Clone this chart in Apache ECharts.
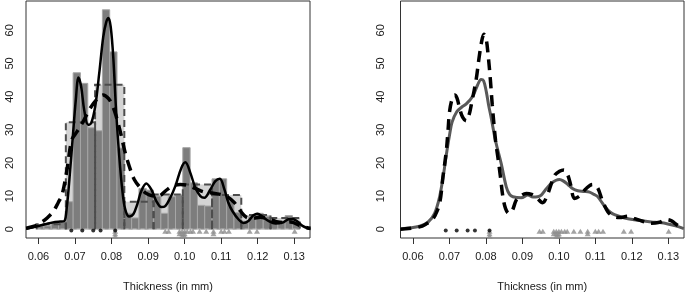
<!DOCTYPE html>
<html>
<head>
<meta charset="utf-8">
<script src="https://cdn.jsdelivr.net/npm/echarts@6/dist/echarts.min.js"></script>
<style>
  html, body { margin: 0; padding: 0; background: #fff; }
  #chart { width: 685px; height: 297px; }
</style>
</head>
<body>
<div id="chart"></div>
<script>
// thickness tick labels and density ticks
const xTicks = [0.06, 0.07, 0.08, 0.09, 0.10, 0.11, 0.12, 0.13];
const yTicks = [0, 10, 20, 30, 40, 50, 60];

// narrow histogram (bin width 0.002): left edges and densities
const narrowWidth = 0.002;
const narrowLeft = [0.0595, 0.0615, 0.0635, 0.0655, 0.0675, 0.0695, 0.0715, 0.0735, 0.0755, 0.0775,
  0.0795, 0.0815, 0.0835, 0.0855, 0.0875, 0.0895, 0.0915, 0.0935, 0.0955, 0.0975,
  0.0995, 0.1015, 0.1035, 0.1055, 0.1075, 0.1095, 0.1115, 0.1135, 0.1155, 0.1175,
  0.1195, 0.1215, 0.1235, 0.1255, 0.1275, 0.1295];
const narrowDensity = [1.0, 1.0, 2.1, 2.1, 8.3, 47.2, 44.0, 30.6, 29.7, 66.2,
  53.5, 24.5, 4.8, 3.4, 12.3, 11.8, 10.0, 4.8, 9.8, 10.3,
  24.6, 14.0, 7.2, 7.0, 15.2, 15.2, 8.5, 5.0, 2.4, 3.9,
  4.8, 3.9, 2.4, 2.4, 4.1, 1.5];

// wide histogram (bin width 0.008)
const wideWidth = 0.008;
const wideLeft = [0.0595, 0.0675, 0.0755, 0.0835, 0.0915, 0.0995, 0.1075, 0.1155, 0.1235];
const wideDensity = [1.5, 32.3, 43.6, 8.3, 10.5, 13.5, 10.3, 4.3, 3.4];

// left panel: solid density
const leftSolidX = [0.05663, 0.05855, 0.06184, 0.06458, 0.06595, 0.06704, 0.06778, 0.06868, 0.06941, 0.07023,
  0.07096, 0.07170, 0.07252, 0.07362, 0.07444, 0.07553, 0.07663, 0.07773, 0.07855, 0.07918,
  0.07978, 0.08047, 0.08129, 0.08211, 0.08293, 0.08375, 0.08485, 0.08595, 0.08704, 0.08814,
  0.08951, 0.09088, 0.09225, 0.09362, 0.09471, 0.09608, 0.09745, 0.09910, 0.10019, 0.10156,
  0.10293, 0.10430, 0.10540, 0.10704, 0.10841, 0.10964, 0.11088, 0.11197, 0.11307, 0.11471,
  0.11608, 0.11745, 0.11882, 0.11992, 0.12129, 0.12293, 0.12485, 0.12677, 0.12841, 0.12951,
  0.13088, 0.13225, 0.13389, 0.13444];
const leftSolidY = [0.1, 0.6, 1.5, 2.2, 2.3, 2.4, 6.8, 17.8, 28, 39,
  45.8, 43, 36, 31.5, 32, 37, 47, 58, 62.5, 63.7,
  61, 52, 35, 22, 12, 6, 3.8, 4.5, 7.5, 11.5,
  13.8, 12, 8.5, 6.7, 7, 9.5, 13, 18.5, 20.2, 17,
  12.5, 10, 9.5, 12, 14.5, 15.2, 12, 8, 5.5, 3,
  1.9, 2.5, 4.2, 4.7, 3.8, 2.5, 1.7, 2.0, 3.0, 3.1,
  2.3, 1.0, 0.2, 0.1];

// left panel: dashed density
const leftDashX = [0.05663, 0.05910, 0.06101, 0.06238, 0.06403, 0.06540, 0.06649, 0.06778, 0.06915, 0.07060,
  0.07225, 0.07416, 0.07608, 0.07773, 0.07910, 0.08019, 0.08129, 0.08238, 0.08375, 0.08485,
  0.08622, 0.08790, 0.08951, 0.09115, 0.09279, 0.09471, 0.09663, 0.09882, 0.10101, 0.10293,
  0.10512, 0.10704, 0.10978, 0.11197, 0.11362, 0.11526, 0.11690, 0.11855, 0.12074, 0.12293,
  0.12512, 0.12732, 0.12896, 0.13060, 0.13225, 0.13444];
const leftDashY = [0.3, 1.0, 2.2, 3.4, 5.3, 8.0, 10.5, 17.7, 27.0, 29.5,
  32.5, 36.5, 39.3, 40.5, 39.5, 37.5, 34, 29.5, 23.0, 19.0,
  15.0, 12.5, 10.8, 10.1, 10.0, 11.5, 13.0, 13.5, 13.2, 12.3,
  11.3, 11.0, 10.5, 9.6, 8.0, 5.5, 3.6, 3.3, 3.6, 3.1,
  2.3, 2.0, 2.2, 1.6, 0.8, 0.3];

// right panel: gray solid density
const rightSolidX = [0.05655, 0.06184, 0.06411, 0.06595, 0.06732, 0.06841, 0.06932, 0.07005, 0.07074, 0.07205,
  0.07334, 0.07463, 0.07644, 0.07773, 0.07868, 0.07937, 0.08011, 0.08074, 0.08148, 0.08266,
  0.08422, 0.08559, 0.08649, 0.08740, 0.08970, 0.09151, 0.09288, 0.09416, 0.09518, 0.09655,
  0.09792, 0.09910, 0.10019, 0.10129, 0.10247, 0.10384, 0.10521, 0.10677, 0.10841, 0.10964,
  0.11068, 0.11184, 0.11299, 0.11403, 0.11526, 0.11800, 0.12164, 0.12532, 0.12759, 0.12986,
  0.13197, 0.13425];
const rightSolidY = [0.1, 0.9, 2.1, 4.8, 9.8, 16.7, 23.6, 28.5, 32.3, 35.5,
  36.8, 37.8, 40.2, 43.5, 45.2, 44.8, 41.5, 37.5, 33.5, 26.6,
  19.7, 12.8, 10.5, 9.8, 9.5, 10.3, 9.7, 9.8, 10.3, 12.2,
  13.8, 14.7, 15.0, 14.5, 13.5, 12.2, 11.6, 11.4, 11.2, 10.5,
  9.8, 8.0, 6.3, 5.2, 4.4, 3.4, 2.7, 2.2, 2.0, 1.6,
  1.0, 0.2];

// right panel: dashed density
const rightDashX = [0.05655, 0.06184, 0.06384, 0.06512, 0.06595, 0.06732, 0.06822, 0.06915, 0.06964, 0.07005,
  0.07079, 0.07142, 0.07211, 0.07279, 0.07362, 0.07463, 0.07540, 0.07608, 0.07737, 0.07808,
  0.07882, 0.07945, 0.08005, 0.08055, 0.08121, 0.08175, 0.08266, 0.08329, 0.08403, 0.08466,
  0.08540, 0.08630, 0.08718, 0.08833, 0.08923, 0.09107, 0.09252, 0.09389, 0.09553, 0.09690,
  0.09882, 0.10019, 0.10137, 0.10238, 0.10321, 0.10430, 0.10567, 0.10751, 0.10923, 0.11060,
  0.11197, 0.11342, 0.11479, 0.11663, 0.11890, 0.12074, 0.12293, 0.12532, 0.12759, 0.12951,
  0.13088, 0.13252, 0.13425];
const rightDashY = [0.0, 0.7, 1.7, 2.7, 3.9, 7.8, 15.7, 23.6, 30, 35.5,
  39.5, 40.5, 39.5, 36.5, 33.8, 32.7, 34.5, 38, 45.4, 51.3,
  56.5, 58.8, 57.5, 53.3, 45.4, 37.5, 26.6, 21.7, 15.5, 9.8,
  6.2, 4.8, 5.5, 8.8, 9.8, 10.8, 10.5, 9.5, 8.0, 10.5,
  16.2, 17.5, 17.9, 16.5, 13.5, 9.3, 10.0, 12.3, 13.5, 12.5,
  8.5, 5.3, 3.9, 3.5, 3.9, 3.2, 2.4, 1.8, 2.1, 2.9,
  2.5, 1.2, 0.2];

// marks along the bottom
const dotX = [0.069, 0.072, 0.075, 0.077, 0.081];
const triX = [0.0810, 0.0947, 0.0956, 0.0986, 0.0993, 0.1000, 0.1007, 0.1016, 0.1023, 0.1041,
  0.1059, 0.1079, 0.1100, 0.1109, 0.1121, 0.1178, 0.1198, 0.1301];
const triCount = [3, 1, 1, 2, 3, 4, 1, 1, 1, 1, 1, 2, 1, 1, 1, 1, 1, 1];

const FONT = 'Liberation Sans, Arial, Helvetica, sans-serif';
const TEXT = '#1a1a1a';
const baseY = -0.4;
const stackStep = 0.75;

const zip = (xs, ys) => xs.map((x, i) => [x, ys[i]]);
const narrowData = narrowLeft.map((l, i) => [l, l + narrowWidth, narrowDensity[i]]);
const wideData = wideLeft.map((l, i) => [l, l + wideWidth, wideDensity[i]]);
const dotData = dotX.map(x => [x, baseY]);
const triData = [];
triX.forEach((x, i) => {
  for (let k = 0; k < triCount[i]; k++) triData.push([x, baseY - 0.2 - k * stackStep]);
});

function rectItem(params, api, style) {
  const p0 = api.coord([api.value(0), 0]);
  const p1 = api.coord([api.value(1), api.value(2)]);
  return {
    type: 'rect',
    shape: { x: p0[0], y: p1[1], width: p1[0] - p0[0], height: p0[1] - p1[1] },
    style: style,
  };
}

function outlineItem(params, api) {
  const a = api.coord([api.value(0), 0]);
  const b = api.coord([api.value(0), api.value(2)]);
  const c = api.coord([api.value(1), api.value(2)]);
  const d = api.coord([api.value(1), 0]);
  return {
    type: 'polyline',
    shape: { points: [a, b, c, d] },
    style: { fill: null, stroke: '#4d4d4d', lineWidth: 2, lineDash: [7, 4] },
  };
}

function makeX(idx) {
  return {
    type: 'value', gridIndex: idx, min: 0.0566, max: 0.1343,
    axisLine: { show: false, onZero: false },
    splitLine: { show: false },
    axisTick: { show: true, length: 6, lineStyle: { color: '#333' }, customValues: xTicks },
    axisLabel: {
      customValues: xTicks, formatter: v => v.toFixed(2),
      fontSize: 11, fontFamily: FONT, color: TEXT, margin: 13,
    },
    name: 'Thickness (in mm)', nameLocation: 'middle', nameGap: 43,
    nameTextStyle: { fontSize: 11, fontFamily: FONT, color: TEXT },
  };
}

function makeY(idx, margin) {
  return {
    type: 'value', gridIndex: idx, min: -2.65, max: 68.85,
    axisLine: { show: false, onZero: false },
    splitLine: { show: false },
    axisTick: { show: false },
    axisLabel: {
      customValues: yTicks, rotate: 90,
      fontSize: 11, fontFamily: FONT, color: TEXT, margin: margin,
    },
  };
}

function curve(xi, data, color, width, dash, z) {
  return {
    type: 'line', xAxisIndex: xi, yAxisIndex: xi, data: data,
    showSymbol: false, smooth: 0.35, z: z, silent: true,
    lineStyle: { color: color, width: width, type: dash ? [11, 7] : 'solid' },
  };
}

function marks(xi) {
  return [
    {
      type: 'scatter', xAxisIndex: xi, yAxisIndex: xi, data: triData,
      symbol: 'triangle', symbolSize: [6, 5], z: 6, silent: true,
      itemStyle: { color: '#8c8c8c' },
    },
    {
      type: 'scatter', xAxisIndex: xi, yAxisIndex: xi, data: dotData,
      symbol: 'circle', symbolSize: 4, z: 7, silent: true,
      itemStyle: { color: '#000' },
    },
  ];
}

const chart = echarts.init(document.getElementById('chart'), null, { renderer: 'canvas' });

chart.setOption({
  animation: false,
  backgroundColor: '#fff',
  grid: [
    { left: 26, top: 1, width: 284, height: 241, show: true, borderColor: '#333', borderWidth: 1 },
    { left: 400.5, top: 1, width: 283.5, height: 241, show: true, borderColor: '#333', borderWidth: 1 },
  ],
  xAxis: [makeX(0), makeX(1)],
  yAxis: [makeY(0, 10.5), makeY(1, 14.5)],
  series: [
    {
      type: 'custom', xAxisIndex: 0, yAxisIndex: 0, data: wideData, z: 1, silent: true,
      encode: { x: [0, 1], y: 2 },
      renderItem: (p, api) => rectItem(p, api, { fill: '#d4d4d4' }),
    },
    {
      type: 'custom', xAxisIndex: 0, yAxisIndex: 0, data: narrowData, z: 2, silent: true,
      encode: { x: [0, 1], y: 2 },
      renderItem: (p, api) => rectItem(p, api, { fill: '#7d7d7d', stroke: '#a6a6a6', lineWidth: 1 }),
    },
    {
      type: 'line', xAxisIndex: 0, yAxisIndex: 0, data: [[0.0595, 0], [0.1315, 0]],
      showSymbol: false, z: 2, silent: true,
      lineStyle: { color: '#d0d0d0', width: 1, type: [4, 4] },
    },
    {
      type: 'custom', xAxisIndex: 0, yAxisIndex: 0, data: wideData, z: 3, silent: true,
      encode: { x: [0, 1], y: 2 },
      renderItem: outlineItem,
    },
    curve(0, zip(leftSolidX, leftSolidY), '#000', 2.5, false, 4),
    curve(0, zip(leftDashX, leftDashY), '#000', 3.5, true, 5),
    ...marks(0),
    curve(1, zip(rightSolidX, rightSolidY), '#595959', 3, false, 4),
    curve(1, zip(rightDashX, rightDashY), '#000', 3.5, true, 5),
    ...marks(1),
  ],
});
</script>
</body>
</html>
